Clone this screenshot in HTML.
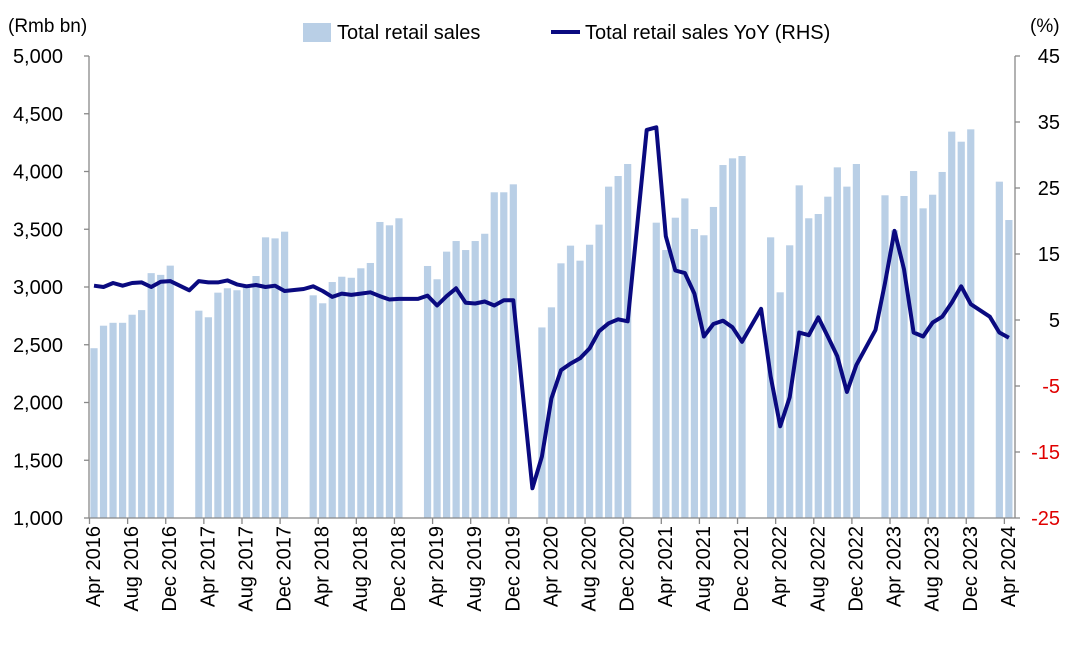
<!DOCTYPE html>
<html><head><meta charset="utf-8"><style>
body{margin:0;background:#fff;}
svg text{font-family:"Liberation Sans",Arial,sans-serif;fill:#000;}
</style></head><body>
<svg id="chart" width="1080" height="663" viewBox="0 0 1080 663" xmlns="http://www.w3.org/2000/svg">
<text x="8" y="32" font-size="19">(Rmb bn)</text>
<text x="1030" y="32" font-size="19">(%)</text>
<g>
<rect x="303" y="23" width="28" height="19" fill="#b9cfe6"/>
<text x="337" y="39" font-size="20">Total retail sales</text>
<line x1="551" y1="32" x2="580" y2="32" stroke="#0a0a80" stroke-width="4"/>
<text x="585" y="39" font-size="20">Total retail sales YoY (RHS)</text>
</g>
<g id="bars"></g><g id="line"></g><g id="axes"></g>
</svg>
<script>
const months = ["Apr","May","Jun","Jul","Aug","Sep","Oct","Nov","Dec","Jan","Feb","Mar"];
const sales = [2470,2665,2690,2690,2760,2800,3120,3105,3185,null,null,
2795,2738,2951,2989,2972,3000,3095,3430,3421,3479,null,null,
2928,2859,3043,3089,3080,3162,3208,3563,3534,3595,null,null,
3182,3067,3306,3398,3320,3398,3461,3820,3820,3889,null,null,
2650,2824,3205,3358,3228,3366,3540,3869,3961,4065,null,null,
3557,3320,3600,3767,3502,3448,3693,4056,4114,4134,null,null,
3430,2954,3361,3880,3595,3632,3782,4036,3869,4065,null,null,
3794,3490,3788,4004,3681,3799,3996,4345,4258,4365,null,null,
3912,3580];
const yoy = [10.2,10.0,10.6,10.2,10.6,10.7,10.0,10.8,10.9,null,9.5,
10.9,10.7,10.7,11.0,10.4,10.1,10.3,10.0,10.2,9.4,null,9.7,
10.1,9.4,8.5,9.0,8.8,9.0,9.2,8.6,8.1,8.2,null,8.2,
8.7,7.2,8.6,9.8,7.6,7.5,7.8,7.2,8.0,8.0,null,-20.5,
-15.7,-6.9,-2.6,-1.6,-0.8,0.7,3.3,4.5,5.1,4.8,null,33.8,
34.2,17.7,12.5,12.1,9.0,2.5,4.4,4.9,3.9,1.7,null,6.7,
-3.5,-11.1,-6.7,3.1,2.7,5.4,2.5,-0.5,-5.9,-1.8,null,3.5,
10.6,18.5,12.7,3.1,2.5,4.6,5.5,7.6,10.1,7.4,null,5.5,
3.1,2.3];
const leftTicks = [1000,1500,2000,2500,3000,3500,4000,4500,5000];
const rightTicks = [-25,-15,-5,5,15,25,35,45];

const NS="http://www.w3.org/2000/svg";
const X0=94, DX=9.53, TOP=56, BOT=518;
const xs=i=>X0+DX*i;
const yL=v=>BOT-(v-1000)/4000*(BOT-TOP);
const yR=v=>BOT-(v+25)/70*(BOT-TOP);
function mk(tag,attrs,parent){const e=document.createElementNS(NS,tag);for(const k in attrs)e.setAttribute(k,attrs[k]);parent.appendChild(e);return e;}
const gB=document.getElementById('bars'),gL=document.getElementById('line'),gA=document.getElementById('axes');
function label(i){const m=months[i%12];const yr=2016+Math.floor((i+3)/12);return m+" "+yr;}
sales.forEach((v,i)=>{if(v==null)return;
 const r=mk('rect',{x:xs(i)-3.6,y:yL(v),width:7.2,height:BOT-yL(v),fill:'#b9cfe6'},gB);
 
 
});
let d="",pen=false;
yoy.forEach((v,i)=>{if(v==null)return;d+=(pen?"L":"M")+xs(i).toFixed(1)+","+yR(v).toFixed(1);pen=true;});
const p=mk('path',{d:d,fill:'none',stroke:'#0a0a80','stroke-width':4,'stroke-linejoin':'round'},gL);


const la=mk('line',{x1:89,y1:TOP,x2:89,y2:BOT,stroke:'#888','stroke-width':1.3},gA);


const ra=mk('line',{x1:1015,y1:TOP,x2:1015,y2:BOT,stroke:'#888','stroke-width':1.3},gA);


const xa=mk('line',{x1:89,y1:BOT,x2:1015,y2:BOT,stroke:'#888','stroke-width':1.3},gA);


leftTicks.forEach(v=>{const y=yL(v);
 mk('line',{x1:84,y1:y,x2:89,y2:y,stroke:'#888','stroke-width':1.3},gA);
 const t=mk('text',{x:63,y:y+7,'font-size':20,'text-anchor':'end'},gA);t.textContent=v.toLocaleString('en-US');
 
 
});
rightTicks.forEach(v=>{const y=yR(v);
 mk('line',{x1:1015,y1:y,x2:1020,y2:y,stroke:'#888','stroke-width':1.3},gA);
 const t=mk('text',{x:1060,y:y+7,'font-size':20,'text-anchor':'end'},gA);t.textContent=v;
 if(v<0)t.setAttribute('style','fill:#e00000');
 
 
});
for(let i=0;i<=96;i+=4){const x=xs(i)-4.5;
 mk('line',{x1:x,y1:BOT,x2:x,y2:BOT+6,stroke:'#888','stroke-width':1.3},gA);
 const lx=xs(i)+6;
 const t=mk('text',{x:lx,y:BOT+8,'font-size':20,'text-anchor':'end',transform:`rotate(-90 ${lx} ${BOT+8})`},gA);
 t.textContent=label(i);
 
 
}
</script>
</body></html>
